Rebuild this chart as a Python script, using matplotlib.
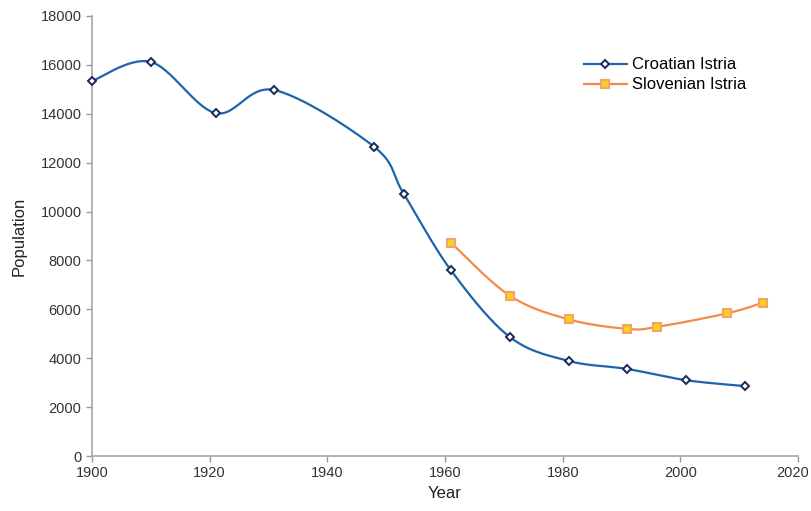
import numpy as np
import matplotlib
matplotlib.use("Agg")
import matplotlib.pyplot as plt
from matplotlib.transforms import ScaledTranslation

plt.rcParams['font.family'] = ['Liberation Sans', 'DejaVu Sans']

# values
croatian_years = [1900, 1910, 1921, 1931, 1948, 1953, 1961, 1971, 1981, 1991, 2001, 2011]
croatian_pop = [15340, 16120, 14030, 14970, 12640, 10720, 7600, 4870, 3890, 3560, 3100, 2860]
slovenian_years = [1961, 1971, 1981, 1991, 1996, 2008, 2014]
slovenian_pop = [8730, 6560, 5590, 5200, 5280, 5840, 6270]

x_ticks = [1900, 1920, 1940, 1960, 1980, 2000, 2020]
y_ticks = list(range(0, 18001, 2000))


def smooth(xs, ys, n=30):
    """Catmull-Rom style smoothing like a spreadsheet 'smoothed line'."""
    xs, ys = np.asarray(xs, float), np.asarray(ys, float)
    px = np.concatenate([[xs[0]], xs, [xs[-1]]])
    py = np.concatenate([[ys[0]], ys, [ys[-1]]])
    out_x, out_y = [], []
    t = np.linspace(0, 1, n)
    for i in range(1, len(px) - 2):
        p0, p1, p2, p3 = (np.array([px[j], py[j]]) for j in (i - 1, i, i + 1, i + 2))
        c1 = p1 + (p2 - p0) / 6
        c2 = p2 - (p3 - p1) / 6
        b = ((1 - t) ** 3)[:, None] * p1 + (3 * (1 - t) ** 2 * t)[:, None] * c1 \
            + (3 * (1 - t) * t ** 2)[:, None] * c2 + (t ** 3)[:, None] * p2
        out_x.extend(b[:, 0])
        out_y.extend(b[:, 1])
    return out_x, out_y


fig = plt.figure(figsize=(8.12, 5.11), dpi=100)
ax = fig.add_axes([0.1133, 0.1076, 0.8695, 0.8611])

blue = "#1f63ad"
orange = "#f5894a"

sx, sy = smooth(croatian_years, croatian_pop)
ax.plot(sx, sy, color=blue, lw=1.6, zorder=2)
ax.plot(croatian_years, croatian_pop, ls="none", marker="D", ms=4.2,
        mfc="white", mec="#1c2857", mew=1.4, zorder=3, clip_on=False)

sx, sy = smooth(slovenian_years, slovenian_pop)
ax.plot(sx, sy, color=orange, lw=1.6, zorder=2)
ax.plot(slovenian_years, slovenian_pop, ls="none", marker="s", ms=6,
        mfc="#f7d21e", mec="#f7a267", mew=1.5, zorder=3)

# legend proxies
ax.plot([], [], color=blue, lw=1.6, marker="D", ms=4, mfc="white", mec="#1c2857",
        mew=1.4, label="Croatian Istria")
ax.plot([], [], color=orange, lw=1.6, marker="s", ms=6, mfc="#f7d21e", mec="#f7a267",
        mew=1.5, label="Slovenian Istria")
ax.legend(loc="upper left", bbox_to_anchor=(0.675, 0.94), frameon=False,
          fontsize=12, handlelength=2.6, labelspacing=0.3, handletextpad=0.3)

ax.set_xlim(1900, 2020)
ax.set_ylim(0, 18000)
ax.set_xticks(x_ticks)
ax.set_yticks(y_ticks)
ax.tick_params(axis="both", colors="#9a9a9a", labelcolor="#333333", labelsize=10.5,
               length=4, width=1)
for s in ("top", "right"):
    ax.spines[s].set_visible(False)
for s in ("left", "bottom"):
    ax.spines[s].set_color("#a6a6a6")
    ax.spines[s].set_linewidth(1.2)

# keep the last year label inside the canvas
last = ax.get_xticklabels()[-1]
last.set_transform(last.get_transform() + ScaledTranslation(-5 / 100, 0, fig.dpi_scale_trans))

ax.set_xlabel("Year", fontsize=12, color="#222222", labelpad=4)
ax.set_ylabel("Population", fontsize=12, color="#222222", labelpad=10)

fig.savefig("out.png", dpi=100)
